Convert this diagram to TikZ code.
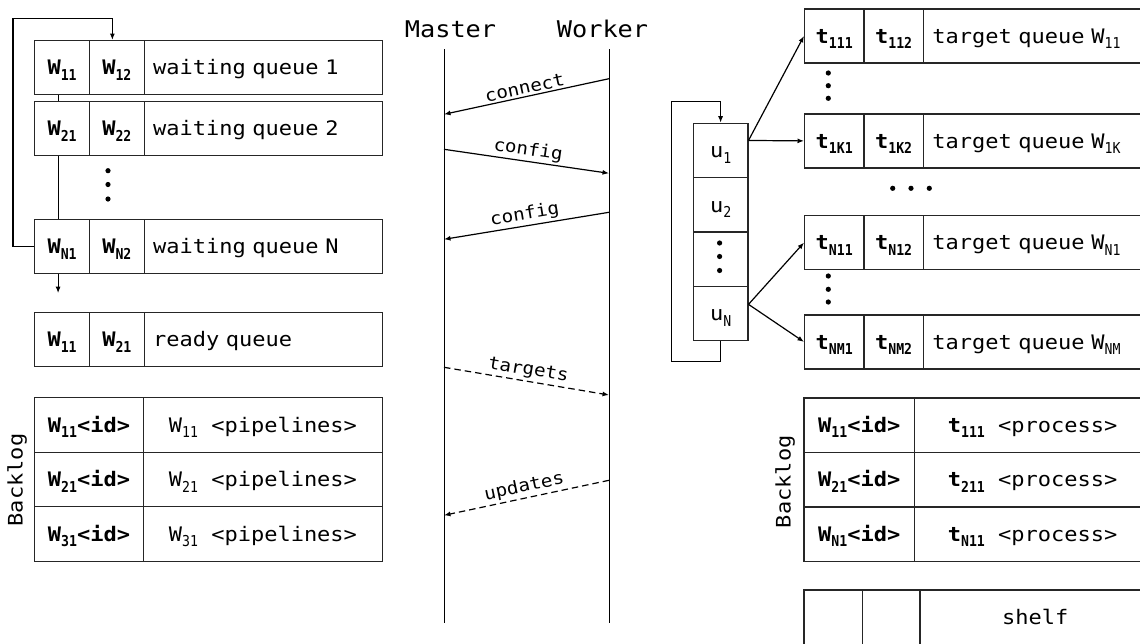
\documentclass[tikz,border=0pt]{standalone}
\usepackage{fontspec}
\setmainfont[FakeStretch=1.1]{DejaVu Sans Mono}
\newfontfamily\idxfont[FakeStretch=0.88]{DejaVu Sans Mono}
\usetikzlibrary{arrows.meta,calc}
% lowered index, e.g. W\lowidx{11}
\newcommand{\lowidx}[1]{\raisebox{-5.5pt}{\fontsize{15}{15}\selectfont\idxfont #1}}

\begin{document}
\begin{tikzpicture}[x=1pt,y=-1pt,line width=1.2pt,
  tcell/.style={draw=black!85, anchor=north west, inner sep=0pt, minimum height=54,
                text height=14.6pt, text depth=0pt, font=\fontsize{20}{24}\selectfont},
  bcell/.style={tcell, font=\fontsize{20}{24}\selectfont\bfseries},
  qcell/.style={tcell, align=left, inner xsep=9pt},
  ucell/.style={tcell, minimum width=54.6, minimum height=54.3},
  msglbl/.style={font=\fontsize{17.5}{20}\selectfont, midway, sloped, above, inner sep=2pt},
  arr/.style={-{Latex[length=6.5pt,width=5pt]}},
  async/.style={arr, dash pattern=on 6.5pt off 4pt},
  sidelbl/.style={rotate=90, font=\fontsize{20}{24}\selectfont, inner sep=0pt},
  headlbl/.style={font=\fontsize{23}{28}\selectfont, text height=16.5pt, text depth=0pt, inner sep=0pt},
]
\useasboundingbox (0,0) rectangle (1140,643);
\clip (0,0) rectangle (1140,643);

% ---------- master side: waiting queues ----------
\node[bcell, minimum width=55]   (L1a) at (34,40)  {W\lowidx{11}};
\node[bcell, minimum width=54.5] (L1b) at (89,40)  {W\lowidx{12}};
\node[qcell, text width=220.5]   (L1q) at (143.5,40) {waiting queue 1};

\node[bcell, minimum width=55]   (L2a) at (34,101) {W\lowidx{21}};
\node[bcell, minimum width=54.5] (L2b) at (89,101) {W\lowidx{22}};
\node[qcell, text width=220.5]   (L2q) at (143.5,101) {waiting queue 2};

\node[bcell, minimum width=55]   (LNa) at (34,219) {W\lowidx{N1}};
\node[bcell, minimum width=54.5] (LNb) at (89,219) {W\lowidx{N2}};
\node[qcell, text width=220.5]   (LNq) at (143.5,219) {waiting queue N};

\foreach \yy in {170.7,184.5,199} \fill (108,\yy) circle (2.6);

% rotation of the waiting queues
\coordinate (lloop) at (13,18.3);
\draw[arr] (LNa.west) -| (lloop) -| ([xshift=-4.5pt]L1b.north);
\draw ([xshift=-4pt]L1a.south) -- ([xshift=-4pt]L2a.north);
\draw ([xshift=-4pt]L2a.south) -- ([xshift=-4pt]LNa.north);
\draw[arr] ([xshift=-4pt]LNa.south) -- ++(0,19);

% ready queue
\node[bcell, minimum width=55]   (Ra) at (34,312) {W\lowidx{11}};
\node[bcell, minimum width=54.5] (Rb) at (89,312) {W\lowidx{21}};
\node[qcell, text width=220.5]   (Rq) at (143.5,312) {ready queue};

% master backlog
\node[bcell, minimum width=108.7, minimum height=54.5] (BL1a) at (34,397)   {W\lowidx{11}<id>};
\node[tcell, minimum width=239.3, minimum height=54.5] (BL1b) at (142.7,397) {W\lowidx{11} <pipelines>};
\node[bcell, minimum width=108.7, minimum height=54.5] (BL2a) at (34,451.5) {W\lowidx{21}<id>};
\node[tcell, minimum width=239.3, minimum height=54.5] (BL2b) at (142.7,451.5) {W\lowidx{21} <pipelines>};
\node[bcell, minimum width=108.7, minimum height=54.5] (BL3a) at (34,506)   {W\lowidx{31}<id>};
\node[tcell, minimum width=239.3, minimum height=54.5] (BL3b) at (142.7,506) {W\lowidx{31} <pipelines>};
\node[sidelbl] (BLlbl) at (17,480) {Backlog};

% ---------- message sequence ----------
\node[headlbl] (master) at (450.5,29.7) {Master};
\node[headlbl] (worker) at (602.5,29.7) {Worker};
\coordinate (mtop) at (444,49.3);  \coordinate (mbot) at (444,623.3);
\coordinate (wtop) at (609,49.3);  \coordinate (wbot) at (609,623.3);
\draw[line width=1pt] (mtop) -- (mbot);
\draw[line width=1pt] (wtop) -- (wbot);

\coordinate (m1) at (444,114.3); \coordinate (w1) at (609,78.7);
\coordinate (m2) at (444,149.3); \coordinate (w2) at (609,173.3);
\coordinate (m3) at (444,239.3); \coordinate (w3) at (609,212.3);
\coordinate (m4) at (444,367.3); \coordinate (w4) at (609,395);
\coordinate (m5) at (444,515.3); \coordinate (w5) at (609,480.3);

\draw[arr]   (w1) -- (m1) node[msglbl] {connect};
\draw[arr]   (m2) -- (w2) node[msglbl] {config};
\draw[arr]   (w3) -- (m3) node[msglbl] {config};
\draw[async] (m4) -- (w4) node[msglbl] {targets};
\draw[async] (w5) -- (m5) node[msglbl] {updates};

% ---------- worker side: target queues ----------
\node[bcell, minimum width=59.3] (T1a) at (804,8.3)   {t\lowidx{111}};
\node[bcell, minimum width=59.4] (T1b) at (863.3,8.3) {t\lowidx{112}};
\node[qcell, text width=240]     (T1q) at (922.7,8.3) {target queue W\lowidx{11}};

\node[bcell, minimum width=59.3] (TKa) at (804,113.3)   {t\lowidx{1K1}};
\node[bcell, minimum width=59.4] (TKb) at (863.3,113.3) {t\lowidx{1K2}};
\node[qcell, text width=240]     (TKq) at (922.7,113.3) {target queue W\lowidx{1K}};

\node[bcell, minimum width=59.3] (TN1a) at (804,215)   {t\lowidx{N11}};
\node[bcell, minimum width=59.4] (TN1b) at (863.3,215) {t\lowidx{N12}};
\node[qcell, text width=240]     (TN1q) at (922.7,215) {target queue W\lowidx{N1}};

\node[bcell, minimum width=59.3] (TNMa) at (804,314.3)   {t\lowidx{NM1}};
\node[bcell, minimum width=59.4] (TNMb) at (863.3,314.3) {t\lowidx{NM2}};
\node[qcell, text width=240]     (TNMq) at (922.7,314.3) {target queue W\lowidx{NM}};

\foreach \yy in {73,85.7,98.3}    \fill (828.3,\yy) circle (2.6);
\foreach \yy in {276,289.3,302}   \fill (828.3,\yy) circle (2.6);
\foreach \xx in {892.7,911,929.3} \fill (\xx,188.3) circle (2.6);

% update stack
\node[ucell] (u1) at (692.7,122.7) {u\lowidx{1}};
\node[ucell] (u2) at (692.7,177)   {u\lowidx{2}};
\node[ucell] (ud) at (692.7,231.3) {};
\node[ucell] (uN) at (692.7,285.6) {u\lowidx{N}};
\foreach \yy in {243,256.5,270.5} \fill (719.6,\yy) circle (2.6);

\coordinate (ulb) at (671.7,361.7);
\coordinate (ult) at (671.7,101.7);
\draw[arr] (uN.south) |- (ulb) -- (ult) -| (u1.north);

\coordinate (u1out) at ($(u1.east)+(0,-10)$);
\coordinate (uNout) at ($(uN.east)+(0,-9)$);
\draw[arr] (u1out) -- (T1a.west);
\draw[arr] (u1out) -- (TKa.west);
\draw[arr] (uNout) -- (TN1a.west);
\draw[arr] (uNout) -- (TNMa.west);

% worker backlog
\node[bcell, minimum width=110.7, minimum height=54.5] (BR1a) at (803.3,397.3) {W\lowidx{11}<id>};
\node[tcell, minimum width=236,   minimum height=54.5] (BR1b) at (914,397.3)   {{\bfseries t\lowidx{111}} <process>};
\node[bcell, minimum width=110.7, minimum height=54.5] (BR2a) at (803.3,451.8) {W\lowidx{21}<id>};
\node[tcell, minimum width=236,   minimum height=54.5] (BR2b) at (914,451.8)   {{\bfseries t\lowidx{211}} <process>};
\node[bcell, minimum width=110.7, minimum height=54.5] (BR3a) at (803.3,506.3) {W\lowidx{N1}<id>};
\node[tcell, minimum width=236,   minimum height=54.5] (BR3b) at (914,506.3)   {{\bfseries t\lowidx{N11}} <process>};
\node[sidelbl] (BRlbl) at (785,481.7) {Backlog};

% shelf
\node[tcell, minimum width=58.4, minimum height=55.4] (S1) at (803.3,589.3) {};
\node[tcell, minimum width=57.6, minimum height=55.4] (S2) at (861.7,589.3) {};
\node[tcell, minimum width=230.7, minimum height=55.4] (S3) at (919.3,589.3) {shelf};
\end{tikzpicture}
\end{document}
